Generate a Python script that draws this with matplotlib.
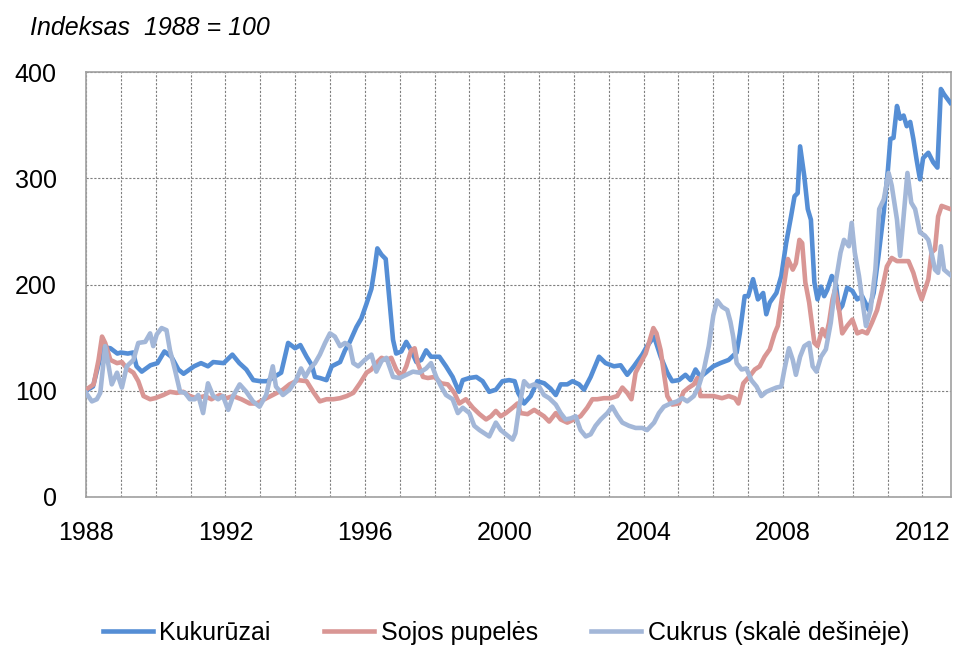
import matplotlib
matplotlib.use('Agg')
import matplotlib.pyplot as plt
import numpy as np

# time in decimal years, values index 1988 = 100
corn_t = [1988.0, 1988.2, 1988.4, 1988.5, 1988.7, 1988.9, 1989.0, 1989.2, 1989.35, 1989.45, 1989.6, 1989.85,
          1990.05, 1990.25, 1990.45, 1990.65, 1990.8, 1991.1, 1991.3, 1991.5, 1991.65, 1991.95, 1992.2, 1992.4,
          1992.6, 1992.8, 1993.0, 1993.2, 1993.4, 1993.6, 1993.8, 1994.0, 1994.15, 1994.33, 1994.48, 1994.57,
          1994.71, 1994.9, 1995.05, 1995.29, 1995.43, 1995.57, 1995.76, 1995.9, 1996.05, 1996.19, 1996.29,
          1996.36, 1996.48, 1996.6, 1996.7, 1996.81, 1996.9, 1997.05, 1997.19, 1997.33, 1997.48, 1997.62,
          1997.76, 1997.9, 1998.14, 1998.33, 1998.52, 1998.7, 1998.81, 1999.0, 1999.2, 1999.38, 1999.57,
          1999.76, 1999.95, 2000.14, 2000.3, 2000.4, 2000.57, 2000.76, 2000.95, 2001.15, 2001.33, 2001.48,
          2001.62, 2001.81, 2001.96, 2002.15, 2002.29, 2002.48, 2002.72, 2002.91, 2003.15, 2003.34, 2003.53,
          2003.72, 2003.96, 2004.1, 2004.3, 2004.49, 2004.68, 2004.82, 2005.01, 2005.2, 2005.35, 2005.49,
          2005.63, 2005.82, 2006.0, 2006.2, 2006.44, 2006.6, 2006.67, 2006.76, 2006.9, 2007.0, 2007.14,
          2007.28, 2007.43, 2007.52, 2007.62, 2007.81, 2007.95, 2008.09, 2008.23, 2008.33, 2008.42, 2008.49,
          2008.61, 2008.71, 2008.8, 2008.9, 2008.99, 2009.09, 2009.18, 2009.27, 2009.4, 2009.51, 2009.61,
          2009.7, 2009.84, 2009.99, 2010.13, 2010.27, 2010.36, 2010.46, 2010.6, 2010.74, 2010.89, 2011.01,
          2011.08, 2011.17, 2011.27, 2011.36, 2011.46, 2011.55, 2011.65, 2011.74, 2011.83, 2011.93, 2012.02,
          2012.17, 2012.31, 2012.43, 2012.53, 2012.62, 2012.8]
corn_v = [100, 104, 130, 141, 140, 135, 136, 135, 136, 123, 118, 124,
          126, 137, 132, 120, 116, 123, 126, 123, 127, 126, 134, 126,
          120, 110, 109, 109, 113, 117, 145, 140, 143, 132, 124, 113,
          112, 110, 123, 127, 138, 146, 160, 168, 182, 196, 217,
          234, 228, 224, 188, 148, 135, 137, 146, 138, 127, 129,
          138, 132, 132, 123, 113, 99, 110, 112, 113, 109, 99,
          101, 109, 110, 109, 98, 88, 95, 109, 107, 102, 96,
          106, 106, 109, 106, 101, 113, 132, 126, 123, 124, 115,
          123, 134, 142, 151, 132, 117, 109, 110, 115, 110, 120,
          113, 118, 123, 126, 129, 134, 136, 154, 189, 189, 205,
          186, 192, 172, 183, 192, 208, 239, 264, 283, 286, 330,
          302, 271, 261, 202, 186, 198, 189, 195, 208, 202, 176,
          180, 197, 194, 186, 189, 183, 176, 192, 227, 268, 308,
          337, 338, 368, 356, 359, 349, 353, 337, 318, 299, 319,
          324, 315, 310, 384, 379, 371]

soy_t = [1988.0, 1988.22, 1988.36, 1988.46, 1988.55, 1988.7, 1988.89, 1989.03, 1989.17, 1989.36, 1989.5,
         1989.65, 1989.84, 1989.98, 1990.22, 1990.41, 1990.6, 1990.79, 1990.98, 1991.17, 1991.41, 1991.6,
         1991.84, 1992.03, 1992.22, 1992.46, 1992.7, 1992.89, 1993.12, 1993.36, 1993.65, 1993.84, 1994.08,
         1994.33, 1994.52, 1994.71, 1994.9, 1995.1, 1995.29, 1995.48, 1995.67, 1995.86, 1996.05, 1996.19,
         1996.33, 1996.48, 1996.62, 1996.76, 1996.9, 1997.05, 1997.19, 1997.33, 1997.43, 1997.52, 1997.67,
         1997.81, 1998.0, 1998.19, 1998.38, 1998.57, 1998.71, 1998.9, 1999.1, 1999.29, 1999.48, 1999.62,
         1999.76, 1999.9, 2000.05, 2000.24, 2000.38, 2000.47, 2000.67, 2000.86, 2001.0, 2001.14, 2001.29,
         2001.48, 2001.62, 2001.81, 2002.0, 2002.19, 2002.38, 2002.53, 2002.67, 2002.86, 2003.05, 2003.24,
         2003.39, 2003.53, 2003.65, 2003.77, 2003.91, 2004.06, 2004.18, 2004.28, 2004.37, 2004.49, 2004.58,
         2004.68, 2004.82, 2005.01, 2005.15, 2005.3, 2005.44, 2005.54, 2005.63, 2005.82, 2006.01, 2006.25,
         2006.44, 2006.62, 2006.72, 2006.86, 2007.05, 2007.19, 2007.33, 2007.47, 2007.62, 2007.76, 2007.85,
         2007.95, 2008.04, 2008.14, 2008.28, 2008.37, 2008.47, 2008.55, 2008.64, 2008.75, 2008.9, 2008.99,
         2009.13, 2009.23, 2009.32, 2009.42, 2009.49, 2009.61, 2009.7, 2009.84, 2009.99, 2010.13, 2010.27,
         2010.41, 2010.55, 2010.7, 2010.84, 2010.98, 2011.12, 2011.27, 2011.41, 2011.6, 2011.74, 2011.88,
         2011.98, 2012.07, 2012.17, 2012.26, 2012.36, 2012.45, 2012.55, 2012.8]
soy_v = [101, 106, 129, 151, 145, 129, 126, 127, 121, 117, 109,
         95, 92, 93, 96, 99, 98, 99, 95, 93, 95, 92,
         96, 93, 95, 92, 88, 88, 92, 96, 101, 106, 110,
         109, 99, 90, 92, 92, 93, 95, 98, 107, 117, 120,
         126, 131, 129, 131, 120, 113, 123, 138, 140, 126, 113,
         112, 113, 107, 106, 98, 88, 92, 84, 78, 73, 76,
         81, 76, 79, 84, 88, 79, 78, 82, 79, 76, 71,
         79, 73, 70, 73, 76, 84, 92, 92, 93, 93, 95,
         103, 98, 92, 117, 126, 135, 148, 159, 154, 138, 117,
         95, 87, 88, 99, 103, 106, 112, 95, 95, 95, 93,
         95, 93, 88, 107, 114, 120, 123, 132, 139, 154, 161,
         183, 202, 224, 214, 220, 242, 239, 202, 183, 145, 142,
         158, 151, 164, 186, 195, 176, 154, 161, 167, 154, 156,
         154, 164, 176, 195, 217, 225, 222, 222, 222, 211, 195,
         186, 195, 205, 230, 233, 264, 274, 271]

sugar_t = [1988.0, 1988.17, 1988.31, 1988.41, 1988.55, 1988.65, 1988.74, 1988.89, 1989.03, 1989.17, 1989.36,
           1989.5, 1989.7, 1989.84, 1989.93, 1990.03, 1990.17, 1990.31, 1990.41, 1990.55, 1990.7, 1990.84,
           1990.98, 1991.12, 1991.22, 1991.36, 1991.5, 1991.65, 1991.79, 1991.93, 1992.08, 1992.22, 1992.41,
           1992.6, 1992.79, 1992.98, 1993.17, 1993.36, 1993.45, 1993.65, 1993.84, 1994.03, 1994.17, 1994.29,
           1994.43, 1994.57, 1994.71, 1994.86, 1995.0, 1995.14, 1995.29, 1995.43, 1995.57, 1995.67, 1995.81,
           1996.0, 1996.19, 1996.33, 1996.48, 1996.62, 1996.81, 1997.0, 1997.19, 1997.38, 1997.57, 1997.76,
           1997.9, 1998.05, 1998.19, 1998.33, 1998.52, 1998.67, 1998.81, 1999.0, 1999.14, 1999.29, 1999.43,
           1999.57, 1999.76, 1999.9, 2000.05, 2000.24, 2000.32, 2000.43, 2000.57, 2000.71, 2000.86, 2001.0,
           2001.14, 2001.29, 2001.48, 2001.62, 2001.76, 2001.91, 2002.05, 2002.19, 2002.34, 2002.48, 2002.62,
           2002.77, 2002.96, 2003.1, 2003.24, 2003.39, 2003.58, 2003.77, 2003.96, 2004.1, 2004.3, 2004.44,
           2004.58, 2004.77, 2004.96, 2005.11, 2005.25, 2005.44, 2005.58, 2005.73, 2005.87, 2006.0, 2006.11,
           2006.25, 2006.4, 2006.49, 2006.57, 2006.67, 2006.81, 2006.95, 2007.09, 2007.24, 2007.38, 2007.52,
           2007.66, 2007.81, 2007.95, 2008.04, 2008.17, 2008.28, 2008.37, 2008.49, 2008.61, 2008.75, 2008.85,
           2008.96, 2009.09, 2009.23, 2009.37, 2009.51, 2009.65, 2009.75, 2009.89, 2009.97, 2010.06, 2010.18,
           2010.27, 2010.38, 2010.51, 2010.65, 2010.76, 2010.89, 2011.03, 2011.12, 2011.27, 2011.36, 2011.46,
           2011.57, 2011.68, 2011.79, 2011.93, 2012.07, 2012.17, 2012.26, 2012.36, 2012.45, 2012.53, 2012.62,
           2012.8]
sugar_v = [98, 90, 92, 98, 142, 123, 106, 117, 103, 123, 129,
           145, 146, 154, 142, 153, 159, 157, 138, 120, 99, 98,
           92, 92, 96, 79, 107, 95, 92, 95, 82, 95, 106,
           99, 90, 85, 96, 123, 104, 96, 101, 110, 121, 113,
           121, 126, 134, 145, 154, 151, 142, 145, 142, 126, 123,
           129, 134, 118, 128, 131, 113, 112, 115, 118, 117, 121,
           126, 113, 104, 96, 92, 79, 84, 79, 67, 63, 60,
           57, 70, 63, 59, 54, 60, 85, 109, 104, 106, 104,
           96, 93, 87, 79, 73, 74, 76, 63, 57, 59, 67,
           73, 79, 85, 77, 70, 67, 65, 65, 63, 70, 79,
           85, 88, 90, 93, 90, 95, 104, 120, 142, 171, 185,
           179, 176, 165, 151, 126, 120, 121, 110, 104, 95, 99,
           101, 103, 104, 120, 140, 129, 115, 132, 142, 145, 123,
           118, 132, 139, 164, 202, 230, 242, 236, 258, 230, 208,
           186, 161, 176, 214, 271, 280, 305, 293, 261, 227, 264,
           305, 277, 271, 249, 246, 242, 230, 214, 211, 236, 214,
           209]

labels = ['Kukurūzai', 'Sojos pupelės', 'Cukrus (skalė dešinėje)']
colors = ['#558ED5', '#D99694', '#A3B7D8']
year_ticks = list(range(1988, 2013, 4))

plt.rcParams['font.family'] = ['Liberation Sans', 'DejaVu Sans']
fig = plt.figure(figsize=(9.57, 6.47), dpi=100)
ax = fig.add_axes([86/957, 1-497/647, 865/957, 425/647])

ax.plot(corn_t, corn_v, color=colors[0], lw=3.3, label=labels[0], zorder=3)
ax.plot(soy_t, soy_v, color=colors[1], lw=3.3, label=labels[1], zorder=4)
ax.plot(sugar_t, sugar_v, color=colors[2], lw=3.3, label=labels[2], zorder=5)

ax.set_xlim(1988, 2012.82)
ax.set_ylim(0, 400)
ax.set_yticks([0, 100, 200, 300, 400])
ax.set_xticks(year_ticks)
ax.set_xticks(range(1989, 2013), minor=True)
ax.tick_params(axis='both', which='both', length=0, labelsize=18)
ax.tick_params(axis='y', pad=21)
ax.tick_params(axis='x', pad=17)
ax.grid(True, which='both', color='#7f7f7f', lw=0.8, ls=(0, (2, 1.5)), zorder=1)
for s in ax.spines.values():
    s.set_color('#a0a0a0')
    s.set_linewidth(1.2)

fig.text(30/957, 1-28/647, 'Indeksas  1988 = 100', style='italic', fontsize=18,
         ha='left', va='center')

fig.legend(loc='center', bbox_to_anchor=(506/957, 1-633/647), ncol=3, frameon=False,
           fontsize=18, handlelength=2.0, handletextpad=0.25, columnspacing=2.15,
           borderpad=0, borderaxespad=0)

fig.savefig('out.png', dpi=100)
